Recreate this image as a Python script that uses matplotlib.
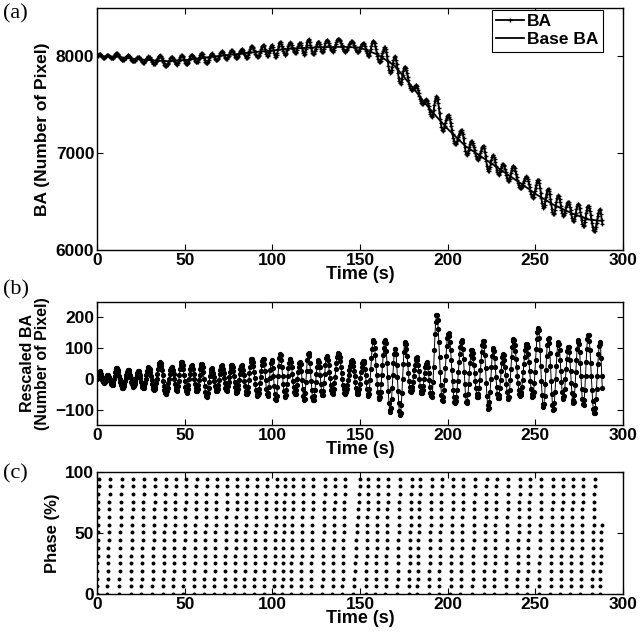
import numpy as np
import matplotlib
matplotlib.use('Agg')
import matplotlib.pyplot as plt

plt.rcParams['font.family'] = ['Liberation Sans', 'DejaVu Sans']
plt.rcParams['font.weight'] = 'bold'
plt.rcParams['axes.linewidth'] = 1.0

# --- data ---
# base BA trend (panel a)
base_t = [0, 10, 20, 30, 40, 50, 60, 70, 80, 90, 100, 110, 120, 130, 140, 150,
          160, 170, 180, 190, 200, 210, 220, 230, 240, 250, 260, 270, 280, 288]
base_v = [8000, 8000, 7975, 7960, 7950, 7960, 7985, 8005, 8025, 8045, 8060, 8080,
          8090, 8095, 8100, 8090, 8020, 7900, 7680, 7450, 7250, 7075, 6955, 6830,
          6710, 6580, 6470, 6385, 6315, 6300]

# rescaled BA: peak times / values and the troughs between them (panel b)
peak_t = [1.5, 6, 11.2, 17.8, 23.5, 29.3, 35.9, 42.6, 48.3, 54, 59.7, 65.4, 71.1,
          76.8, 82.5, 88.2, 94.9, 99.6, 104.4, 110.1, 115.8, 120.5, 126.2, 131,
          137.6, 145.3, 151.9, 157.6, 164.3, 170, 175.7, 182.3, 188, 193.7, 200.4,
          208, 213.7, 220.4, 226, 231.7, 237.5, 245.1, 251.7, 257.4, 263.1, 268.8,
          274.5, 280.2, 286.9]
peak_v = [25, 12, 35, 30, 25, 38, 55, 40, 55, 45, 50, 35, 45, 45, 45, 65, 65, 60,
          80, 65, 55, 85, 60, 75, 85, 60, 60, 125, 125, 100, 120, 70, 55, 210, 150,
          125, 95, 125, 100, 80, 130, 115, 165, 135, 120, 105, 125, 145, 120]
trough_v = [-15, -20, -30, -25, -30, -35, -50, -40, -45, -40, -60, -40, -40, -45,
            -50, -55, -55, -70, -60, -50, -70, -70, -55, -50, -50, -50, -55, -65,
            -107, -118, -43, -48, -60, -73, -78, -80, -60, -100, -65, -65, -55, -60,
            -92, -102, -65, -80, -86, -113]
start_v = 0
end_t, end_v = 288.4, -35
dt = 0.37

# phase columns (panel c): time at top of each column
col_t = [0.9, 7.4, 14.1, 20.7, 26.8, 33.1, 39.2, 44.9, 50.8, 56.8, 62.6, 68.3, 74.3,
         80, 85.4, 91.1, 96.8, 102.5, 107.2, 112, 117.7, 123.4, 130, 135.8, 141.4,
         150, 154.8, 160.4, 166.1, 172.8, 179.5, 184.2, 190.9, 196.6, 203.2, 208.9,
         215.6, 222.2, 227.9, 234.6, 241.2, 246.9, 253.5, 260.2, 265.9, 271.6,
         277.3, 283.9, 288.4]
col_slant = [0.9] + [1.6] * 24 + [3.8] + [1.6] * 23
col_max = [94.5] * 48 + [61]
phase_step = 6.3

# --- build sampled series ---
trough_t = [(a + b) / 2 for a, b in zip(peak_t[:-1], peak_t[1:])]
ext_t = [0.0]
ext_v = [start_v]
for i in range(len(peak_t)):
    ext_t.append(peak_t[i]); ext_v.append(peak_v[i])
    if i < len(trough_t):
        ext_t.append(trough_t[i]); ext_v.append(trough_v[i])
ext_t.append(end_t); ext_v.append(end_v)
ext_t = np.array(ext_t); ext_v = np.array(ext_v, dtype=float)

t = np.arange(0, end_t + 1e-6, dt)
idx = np.clip(np.searchsorted(ext_t, t, side='right') - 1, 0, len(ext_t) - 2)
u = (t - ext_t[idx]) / (ext_t[idx + 1] - ext_t[idx])
resc = ext_v[idx] + (ext_v[idx + 1] - ext_v[idx]) * (1 - np.cos(np.pi * u)) / 2
base = np.interp(t, base_t, base_v)
ba = base + resc

# --- figure ---
fig = plt.figure(figsize=(6.43, 6.38), dpi=100)
ax1 = fig.add_axes([0.1509, 0.6082, 0.818, 0.3793])
ax2 = fig.add_axes([0.1509, 0.3339, 0.818, 0.1928])
ax3 = fig.add_axes([0.1509, 0.0690, 0.818, 0.1912])

ax1.plot(t, ba, color='k', lw=1.3, marker='+', ms=3.5, mew=0.9, label='BA')
ax1.plot(t, base, color='k', lw=1.3, label='Base BA')
ax1.set_xlim(0, 300)
ax1.set_ylim(6000, 8500)
ax1.set_yticks([6000, 7000, 8000])
ax1.set_ylabel('BA (Number of Pixel)', fontsize=12.5, fontweight='bold')
leg = ax1.legend(loc='upper right', bbox_to_anchor=(0.962, 0.992), fontsize=12.5,
                 handlelength=1.6, fancybox=False, edgecolor='k', framealpha=1,
                 borderaxespad=0.0, handletextpad=0.2, borderpad=0.25,
                 labelspacing=0.15)
leg.get_frame().set_linewidth(0.8)

ax2.plot(t, resc, color='k', lw=0.7, marker='.', ms=5.5)
ax2.set_xlim(0, 300)
ax2.set_ylim(-150, 250)
ax2.set_yticks([-100, 0, 100, 200])
ax2.set_ylabel('Rescaled BA\n(Number of Pixel)', fontsize=11.5, fontweight='bold',
               linespacing=1.0)

for ct, sl, mx in zip(col_t, col_slant, col_max):
    ph = np.arange(0, mx + 0.01, phase_step)
    x = ct - sl * (1 - ph / 94.5)
    ax3.scatter(x, ph, s=8, color='k', linewidths=0)
ax3.set_xlim(0, 300)
ax3.set_ylim(0, 100)
ax3.set_yticks([0, 50, 100])
ax3.set_ylabel('Phase (%)', fontsize=12, fontweight='bold')

for ax in (ax1, ax2, ax3):
    ax.set_xticks([0, 50, 100, 150, 200, 250, 300])
    ax.set_xlabel('Time (s)', fontsize=13, fontweight='bold', labelpad=-1)
    ax.tick_params(direction='in', top=True, right=True, length=4, width=0.8,
                   labelsize=12.5, pad=2)
    for lab in ax.get_xticklabels() + ax.get_yticklabels():
        lab.set_fontweight('bold')

for y, s in [(0.978, '(a)'), (0.545, '(b)'), (0.258, '(c)')]:
    fig.text(0.004, y, s, family='Liberation Serif', fontsize=16,
             fontweight='normal', va='center')

fig.savefig('out.png', dpi=100)
